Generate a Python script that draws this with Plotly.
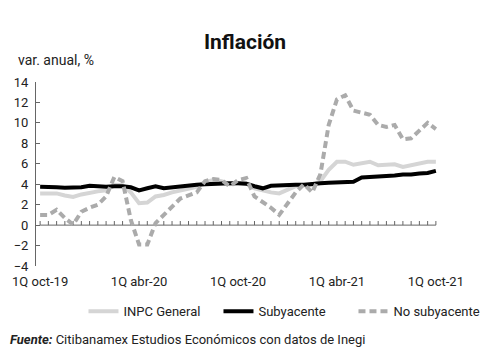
import plotly.graph_objects as go

months = ["ene", "feb", "mar", "abr", "may", "jun", "jul", "ago", "sep", "oct", "nov", "dic"]
periods = []
for yr, m0, m1 in [(19, 9, 12), (20, 0, 12), (21, 0, 10)]:
    for m in range(m0, m1):
        for q in ("1Q", "2Q"):
            periods.append(f"{q} {months[m]}-{yr}")
periods = periods[:49]

tick_labels = ["1Q oct-19", "1Q abr-20", "1Q oct-20", "1Q abr-21", "1Q oct-21"]

inpc_general = [3.1, 3.1, 3.1, 2.9, 2.75, 3.0, 3.2, 3.3, 3.4, 3.95,
                3.9, 3.2, 2.15, 2.2, 2.8, 2.95, 3.2, 3.4, 3.55, 3.75,
                4.2, 4.4, 4.3, 4.0, 4.1, 4.1, 3.6, 3.4, 3.2, 3.1,
                3.4, 3.8, 3.9, 3.9, 4.3, 5.4, 6.2, 6.2, 5.9, 6.1,
                6.2, 5.85, 5.9, 5.95, 5.7, 5.85, 6.05, 6.2, 6.2]

subyacente = [3.75, 3.75, 3.7, 3.65, 3.65, 3.7, 3.85, 3.8, 3.75, 3.8,
              3.8, 3.7, 3.4, 3.6, 3.8, 3.6, 3.7, 3.8, 3.9, 3.95,
              4.0, 4.05, 4.05, 4.1, 4.1, 4.05, 3.8, 3.6, 3.85, 3.9,
              3.9, 3.95, 3.95, 4.05, 4.1, 4.15, 4.2, 4.2, 4.25, 4.65,
              4.7, 4.7, 4.75, 4.85, 4.95, 4.95, 5.05, 5.1, 5.3]

no_subyacente = [1.0, 1.0, 1.5, 0.7, 0.05, 1.3, 1.7, 2.0, 2.8, 4.7,
                 4.3, 0.5, -1.9, -1.9, 0.2, 1.0, 1.8, 2.6, 2.9, 3.2,
                 4.3, 4.5, 4.4, 3.8, 4.4, 4.6, 2.8, 2.3, 1.7, 1.0,
                 2.1, 3.2, 4.0, 3.2, 5.0, 9.8, 12.3, 12.7, 11.2, 11.0,
                 10.8, 9.8, 9.6, 9.8, 8.4, 8.5, 9.2, 10.0, 9.4]

FONT = "Roboto"
AXIS_COLOR = "#666666"
n = len(periods)

fig = go.Figure()
# zero baseline with small upward tick marks for every period (axis decoration)
fig.add_trace(go.Scatter(x=periods, y=[0] * n, mode="lines", showlegend=False,
                         hoverinfo="skip", line=dict(color=AXIS_COLOR, width=1),
                         error_y=dict(type="data", symmetric=False, array=[0.4] * n,
                                      arrayminus=[0] * n, width=0, thickness=1,
                                      color=AXIS_COLOR)))
fig.add_trace(go.Scatter(x=periods, y=inpc_general, name="INPC General", mode="lines",
                         line=dict(color="#d5d5d5", width=4), hoverinfo="skip"))
fig.add_trace(go.Scatter(x=periods, y=subyacente, name="Subyacente", mode="lines",
                         line=dict(color="#000000", width=4), hoverinfo="skip"))
fig.add_trace(go.Scatter(x=periods, y=no_subyacente, name="No subyacente", mode="lines",
                         line=dict(color="#ababab", width=4, dash="7px,4px"), hoverinfo="skip"))

fig.update_layout(
    width=500, height=360,
    margin=dict(l=36, r=28, t=82, b=94),
    paper_bgcolor="white", plot_bgcolor="white",
    font=dict(family=FONT, size=13, color="#222222"),
    title=dict(text="<b>Inflación</b>", x=0.49, xanchor="center", y=0.883, yanchor="middle",
               font=dict(family=FONT, size=21, color="#111111")),
    showlegend=True,
    legend=dict(orientation="h", x=1.12, xanchor="right", y=-0.246, yanchor="middle",
                font=dict(family=FONT, size=13, color="#222222"), bgcolor="rgba(0,0,0,0)",
                itemwidth=30, entrywidth=90),
    xaxis=dict(type="category", range=[-0.5, n - 0.5], tickmode="array",
               tickvals=tick_labels, ticktext=tick_labels, showline=False, showgrid=False,
               zeroline=False, ticks="", ticklabelstandoff=6,
               tickfont=dict(size=13, color="#222222")),
    yaxis=dict(range=[-4, 14], dtick=2, tick0=0, showline=True,
               linecolor=AXIS_COLOR, linewidth=1, showgrid=False, zeroline=False,
               ticks="inside", ticklen=4, tickcolor=AXIS_COLOR, ticklabelstandoff=4,
               tickfont=dict(size=13, color="#222222")),
    annotations=[
        dict(text="var. anual, %", xref="paper", yref="paper", x=-0.0505, y=1.122,
             xanchor="left", yanchor="middle", showarrow=False,
             font=dict(family=FONT, size=14, color="#222222")),
        dict(text="<b><i>Fuente:</i></b> Citibanamex Estudios Económicos con datos de Inegi",
             xref="paper", yref="paper", x=-0.0688, y=-0.399, xanchor="left", yanchor="middle",
             showarrow=False, font=dict(family=FONT, size=13, color="#222222")),
    ],
)

fig.write_html("out.html", config={"displayModeBar": False},
               post_script="document.body.style.margin='0';document.body.style.padding='0';")
